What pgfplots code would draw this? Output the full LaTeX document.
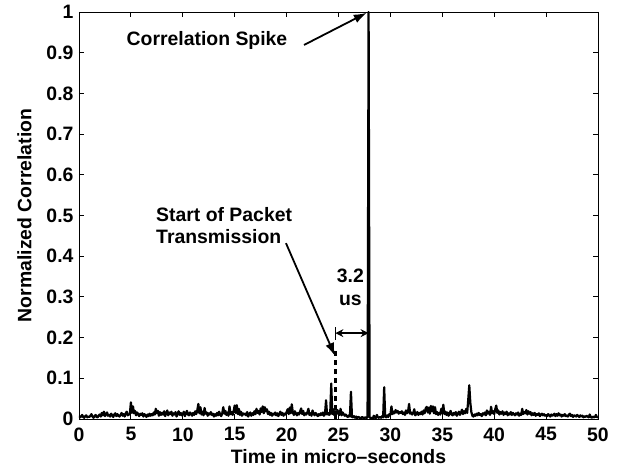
\documentclass[border=0pt]{standalone}
\usepackage{pgfplots}
\pgfplotsset{compat=1.18}
\usepackage{fontspec}
\setmainfont{Liberation Sans}
\usetikzlibrary{arrows.meta}
\begin{document}
\begin{tikzpicture}[font=\fontsize{19.4}{22.7}\selectfont\bfseries]
\path[use as bounding box] (-79pt,-49pt) rectangle (546pt,419pt);
\begin{axis}[at={(0,0)}, anchor=south west, scale only axis,
  width=519pt, height=407pt,
  xmin=0, xmax=50, ymin=0, ymax=1,
  xtick={0,5,10,15,20,25,30,35,40,45,50},
  ytick={0,0.1,0.2,0.3,0.4,0.5,0.6,0.7,0.8,0.9,1},
  yticklabels={0,0.1,0.2,0.3,0.4,0.5,0.6,0.7,0.8,0.9,1},
  tick align=inside, xtick pos=both, ytick pos=both,
  major tick length=5pt,
  axis line style={line width=0.8pt},
  every tick/.style={line width=0.8pt, black},
  /pgf/number format/assume math mode=true,
  xticklabel style={yshift=-5pt},
  yticklabel style={xshift=-2pt},
  xlabel={Time in micro--seconds}, ylabel={Normalized Correlation},
  xlabel style={yshift=-1.5pt},
  ylabel style={yshift=8pt},
  clip mode=individual,
]
\addplot[black, line width=2.2pt, line join=round] coordinates {
(0.0,0.008)(0.1,0.004)(0.2,0.006)(0.3,0.010)(0.4,0.005)(0.5,0.003)(0.6,0.007)(0.7,0.009)(0.8,0.004)(0.9,0.006)
(1.0,0.005)(1.1,0.008)(1.2,0.012)(1.3,0.006)(1.4,0.003)(1.5,0.007)(1.6,0.010)(1.7,0.005)(1.8,0.004)(1.9,0.009)
(2.0,0.011)(2.1,0.006)(2.2,0.015)(2.3,0.009)(2.4,0.018)(2.5,0.007)(2.6,0.012)(2.7,0.016)(2.8,0.008)(2.9,0.010)
(3.0,0.006)(3.1,0.013)(3.2,0.009)(3.3,0.005)(3.4,0.011)(3.5,0.014)(3.6,0.007)(3.7,0.012)(3.8,0.008)(3.9,0.006)
(4.0,0.010)(4.1,0.015)(4.2,0.008)(4.3,0.012)(4.4,0.006)(4.5,0.014)(4.6,0.018)(4.7,0.009)(4.8,0.011)(4.9,0.012)
(5.0,0.041)(5.1,0.015)(5.2,0.031)(5.3,0.014)(5.4,0.020)(5.5,0.009)(5.6,0.016)(5.7,0.012)(5.8,0.007)(5.9,0.013)
(6.0,0.010)(6.1,0.014)(6.2,0.006)(6.3,0.012)(6.4,0.009)(6.5,0.005)(6.6,0.011)(6.7,0.007)(6.8,0.013)(6.9,0.008)
(7.0,0.012)(7.1,0.009)(7.2,0.016)(7.3,0.011)(7.4,0.025)(7.5,0.014)(7.6,0.020)(7.7,0.008)(7.8,0.017)(7.9,0.010)
(8.0,0.015)(8.1,0.011)(8.2,0.019)(8.3,0.007)(8.4,0.014)(8.5,0.021)(8.6,0.009)(8.7,0.016)(8.8,0.012)(8.9,0.018)
(9.0,0.008)(9.1,0.014)(9.2,0.011)(9.3,0.017)(9.4,0.006)(9.5,0.013)(9.6,0.019)(9.7,0.010)(9.8,0.015)(9.9,0.009)
(10.0,0.012)(10.1,0.018)(10.2,0.007)(10.3,0.014)(10.4,0.020)(10.5,0.011)(10.6,0.009)(10.7,0.016)(10.8,0.013)(10.9,0.008)
(11.0,0.015)(11.1,0.010)(11.2,0.019)(11.3,0.012)(11.4,0.022)(11.5,0.037)(11.6,0.014)(11.7,0.029)(11.8,0.011)(11.9,0.018)
(12.0,0.009)(12.1,0.027)(12.2,0.013)(12.3,0.016)(12.4,0.008)(12.5,0.014)(12.6,0.011)(12.7,0.017)(12.8,0.010)(12.9,0.013)
(13.0,0.006)(13.1,0.012)(13.2,0.008)(13.3,0.015)(13.4,0.009)(13.5,0.018)(13.6,0.011)(13.7,0.007)(13.8,0.014)(13.9,0.029)
(14.0,0.013)(14.1,0.020)(14.2,0.010)(14.3,0.016)(14.4,0.008)(14.5,0.031)(14.6,0.012)(14.7,0.017)(14.8,0.010)(14.9,0.020)
(15.0,0.033)(15.1,0.015)(15.2,0.034)(15.3,0.012)(15.4,0.025)(15.5,0.010)(15.6,0.018)(15.7,0.008)(15.8,0.014)(15.9,0.011)
(16.0,0.013)(16.1,0.009)(16.2,0.017)(16.3,0.006)(16.4,0.012)(16.5,0.016)(16.6,0.008)(16.7,0.014)(16.8,0.010)(16.9,0.019)
(17.0,0.012)(17.1,0.025)(17.2,0.015)(17.3,0.020)(17.4,0.011)(17.5,0.026)(17.6,0.017)(17.7,0.031)(17.8,0.014)(17.9,0.029)
(18.0,0.019)(18.1,0.024)(18.2,0.012)(18.3,0.018)(18.4,0.010)(18.5,0.015)(18.6,0.008)(18.7,0.013)(18.8,0.011)(18.9,0.016)
(19.0,0.009)(19.1,0.014)(19.2,0.007)(19.3,0.012)(19.4,0.018)(19.5,0.010)(19.6,0.015)(19.7,0.008)(19.8,0.013)(19.9,0.011)
(20.0,0.017)(20.1,0.024)(20.2,0.012)(20.3,0.028)(20.4,0.014)(20.5,0.036)(20.6,0.016)(20.7,0.010)(20.8,0.019)(20.9,0.013)
(21.0,0.009)(21.1,0.015)(21.2,0.011)(21.3,0.018)(21.4,0.026)(21.5,0.012)(21.6,0.020)(21.7,0.009)(21.8,0.014)(21.9,0.011)
(22.0,0.016)(22.1,0.025)(22.2,0.010)(22.3,0.014)(22.4,0.008)(22.5,0.021)(22.6,0.013)(22.7,0.009)(22.8,0.015)(22.9,0.011)
(23.0,0.007)(23.1,0.012)(23.2,0.009)(23.3,0.014)(23.4,0.010)(23.5,0.016)(23.6,0.008)(23.7,0.012)(23.8,0.046)(23.9,0.011)
(24.0,0.015)(24.1,0.010)(24.2,0.013)(24.3,0.087)(24.4,0.012)(24.5,0.024)(24.6,0.009)(24.7,0.019)(24.8,0.012)(24.9,0.022)
(25.0,0.014)(25.1,0.010)(25.2,0.025)(25.3,0.009)(25.4,0.016)(25.5,0.012)(25.6,0.008)(25.7,0.011)(25.8,0.007)(25.9,0.005)
(26.0,0.009)(26.1,0.006)(26.2,0.067)(26.3,0.005)(26.4,0.004)(26.5,0.007)(26.6,0.003)(26.7,0.006)(26.8,0.002)(26.9,0.005)
(27.0,0.004)(27.1,0.002)(27.2,0.003)(27.3,0.005)(27.4,0.002)(27.5,0.003)(27.6,0.004)(27.7,0.002)(27.8,0.006)(27.9,1.000)
(28.0,0.004)(28.1,0.002)(28.2,0.003)(28.3,0.001)(28.4,0.008)(28.5,0.003)(28.6,0.002)(28.7,0.010)(28.8,0.004)(28.9,0.003)
(29.0,0.005)(29.1,0.003)(29.2,0.007)(29.3,0.004)(29.4,0.078)(29.5,0.006)(29.6,0.004)(29.7,0.009)(29.8,0.005)(29.9,0.012)
(30.0,0.010)(30.1,0.031)(30.2,0.012)(30.3,0.018)(30.4,0.014)(30.5,0.022)(30.6,0.016)(30.7,0.020)(30.8,0.013)(30.9,0.017)
(31.0,0.015)(31.1,0.019)(31.2,0.012)(31.3,0.016)(31.4,0.010)(31.5,0.021)(31.6,0.014)(31.7,0.018)(31.8,0.037)(31.9,0.013)
(32.0,0.016)(32.1,0.011)(32.2,0.014)(32.3,0.024)(32.4,0.009)(32.5,0.013)(32.6,0.017)(32.7,0.010)(32.8,0.015)(32.9,0.012)
(33.0,0.018)(33.1,0.011)(33.2,0.021)(33.3,0.014)(33.4,0.026)(33.5,0.030)(33.6,0.016)(33.7,0.028)(33.8,0.013)(33.9,0.032)
(34.0,0.019)(34.1,0.031)(34.2,0.014)(34.3,0.029)(34.4,0.012)(34.5,0.017)(34.6,0.010)(34.7,0.015)(34.8,0.011)(34.9,0.025)
(35.0,0.014)(35.1,0.035)(35.2,0.012)(35.3,0.018)(35.4,0.010)(35.5,0.016)(35.6,0.008)(35.7,0.013)(35.8,0.020)(35.9,0.011)
(36.0,0.009)(36.1,0.015)(36.2,0.011)(36.3,0.017)(36.4,0.008)(36.5,0.013)(36.6,0.018)(36.7,0.010)(36.8,0.016)(36.9,0.023)
(37.0,0.012)(37.1,0.019)(37.2,0.014)(37.3,0.025)(37.4,0.015)(37.5,0.048)(37.6,0.083)(37.7,0.040)(37.8,0.017)(37.9,0.008)
(38.0,0.006)(38.1,0.011)(38.2,0.008)(38.3,0.013)(38.4,0.009)(38.5,0.015)(38.6,0.010)(38.7,0.012)(38.8,0.007)(38.9,0.014)
(39.0,0.011)(39.1,0.016)(39.2,0.009)(39.3,0.021)(39.4,0.013)(39.5,0.018)(39.6,0.010)(39.7,0.030)(39.8,0.014)(39.9,0.019)
(40.0,0.012)(40.1,0.024)(40.2,0.033)(40.3,0.015)(40.4,0.021)(40.5,0.011)(40.6,0.017)(40.7,0.013)(40.8,0.019)(40.9,0.010)
(41.0,0.016)(41.1,0.012)(41.2,0.018)(41.3,0.009)(41.4,0.014)(41.5,0.011)(41.6,0.017)(41.7,0.010)(41.8,0.015)(41.9,0.012)
(42.0,0.009)(42.1,0.014)(42.2,0.011)(42.3,0.016)(42.4,0.008)(42.5,0.013)(42.6,0.010)(42.7,0.025)(42.8,0.012)(42.9,0.017)
(43.0,0.014)(43.1,0.022)(43.2,0.011)(43.3,0.019)(43.4,0.013)(43.5,0.017)(43.6,0.009)(43.7,0.014)(43.8,0.010)(43.9,0.015)
(44.0,0.008)(44.1,0.012)(44.2,0.010)(44.3,0.014)(44.4,0.007)(44.5,0.011)(44.6,0.013)(44.7,0.009)(44.8,0.012)(44.9,0.008)
(45.0,0.010)(45.1,0.007)(45.2,0.012)(45.3,0.009)(45.4,0.006)(45.5,0.011)(45.6,0.008)(45.7,0.010)(45.8,0.013)(45.9,0.007)
(46.0,0.012)(46.1,0.008)(46.2,0.014)(46.3,0.009)(46.4,0.011)(46.5,0.006)(46.6,0.010)(46.7,0.008)(46.8,0.012)(46.9,0.007)
(47.0,0.009)(47.1,0.006)(47.2,0.011)(47.3,0.013)(47.4,0.007)(47.5,0.010)(47.6,0.005)(47.7,0.009)(47.8,0.008)(47.9,0.006)
(48.0,0.010)(48.1,0.007)(48.2,0.005)(48.3,0.009)(48.4,0.006)(48.5,0.008)(48.6,0.004)(48.7,0.007)(48.8,0.005)(48.9,0.008)
(49.0,0.006)(49.1,0.004)(49.2,0.011)(49.3,0.005)(49.4,0.003)(49.5,0.006)(49.6,0.004)(49.7,0.005)(49.8,0.010)(49.9,0.004)
(50.0,0.005)
};
\addplot[black, line width=2.5pt, dash pattern=on 5pt off 4pt] coordinates {(24.7,0) (24.7,0.175)};
\draw[line width=1.8pt, -{Latex[length=13pt,width=9pt]}] (axis cs:21.68,0.919) -- (axis cs:27.72,0.998);
\draw[line width=1.8pt, -{Latex[length=13pt,width=9pt]}] (axis cs:19.94,0.432) -- (axis cs:24.66,0.155);
\draw[line width=1.3pt, {Stealth[length=8pt,width=8pt]}-{Stealth[length=8pt,width=8pt]}] (axis cs:24.7,0.211) -- (axis cs:27.9,0.211);
\draw[line width=1.3pt] (axis cs:24.7,0.195) -- (axis cs:24.7,0.227);
\node at (axis cs:12.33,0.931) {Correlation Spike};
\node[anchor=west, align=left, inner sep=0pt] at (axis cs:7.42,0.475) {Start of Packet\\Transmission};
\node[align=center, inner sep=0pt] at (axis cs:26.15,0.323) {3.2\\us};
\end{axis}
\end{tikzpicture}
\end{document}
